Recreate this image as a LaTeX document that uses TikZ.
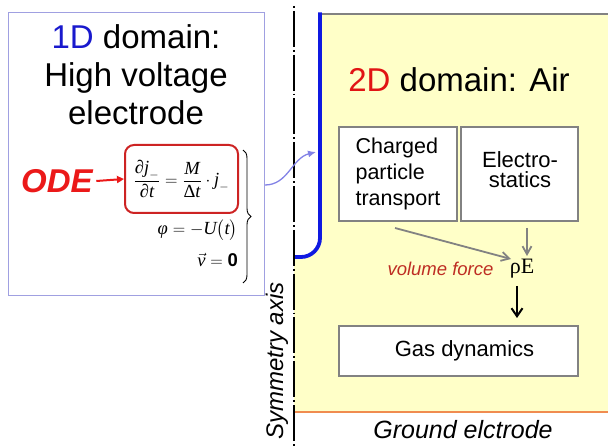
\documentclass[tikz,border=0pt]{standalone}
\usepackage{fontspec}
\usepackage{amsmath}
\setmainfont{Liberation Sans}
\newfontfamily\tnr{Liberation Serif}
\usetikzlibrary{arrows.meta,decorations.pathreplacing}
\definecolor{domyellow}{RGB}{255,255,200}
\definecolor{lav}{RGB}{160,160,225}
\definecolor{arrlav}{RGB}{130,130,230}
\definecolor{odered}{RGB}{235,25,25}
\definecolor{boxred}{RGB}{205,35,35}
\definecolor{elecblue}{RGB}{15,25,225}
\definecolor{blueD}{RGB}{25,25,205}
\definecolor{redD}{RGB}{225,20,20}
\definecolor{gndorange}{RGB}{240,140,80}
\definecolor{vfred}{RGB}{190,45,35}
\definecolor{boxgray}{RGB}{130,130,130}
\newcommand\ti[1]{\text{\tnr\itshape #1}}
\tikzset{
  dombox/.style={draw=boxgray, line width=1.8pt, fill=white, inner sep=0pt},
  grayarr/.style={draw=boxgray, line width=1.8pt, -{Straight Barb[length=8pt,width=9pt]}},
  bigtext/.style={font=\fontsize{33}{38}\selectfont},
  boxtext/.style={font=\fontsize{21.5}{26}\selectfont},
  eqtext/.style={font=\fontsize{18.5}{21}\selectfont}
}
\begin{document}
\begin{tikzpicture}[x=1pt,y=-1pt]
\useasboundingbox (0,0) rectangle (608,446);
% 2D domain
\fill[domyellow] (294,412) -- (294,257) -- (301,257) arc[start angle=90,end angle=0,radius=19] -- (320,14) -- (608,14) -- (608,412) -- cycle;
\draw[boxgray, line width=2pt] (320,14) -- (608,14);
\draw[elecblue, line width=3.8pt] (294,257) -- (301,257) arc[start angle=90,end angle=0,radius=19] -- (320,12.5);
\draw[gndorange, line width=2.5pt] (294,412) -- (608,412);
\draw[line width=1.8pt, dash pattern=on 1.8pt off 3pt on 36pt off 3pt] (294,6) -- (294,446);
\node[rotate=90, font=\fontsize{24}{26}\selectfont\itshape] (sym) at (277,361) {Symmetry axis};
% 1D box
\node[draw=lav, line width=1.2pt, minimum width=256pt, minimum height=283pt, anchor=north west, inner sep=0pt] (box1d) at (8,12) {};
\node[bigtext, align=center] (t1d) at (136,75) {\textcolor{blueD}{1D} domain:\\High voltage\\electrode};
\node[draw=boxred, line width=2pt, rounded corners=9pt, minimum width=113pt, minimum height=68pt, inner sep=2pt, eqtext] (eqbox) at (181.5,179)
  {$\dfrac{\ti{∂j}_{-}}{\ti{∂t}} = \dfrac{\ti{M}}{\text{\tnr Δ}\ti{t}}\cdot \ti{j}_{-}$};
\node[font=\fontsize{33}{33}\selectfont\bfseries\itshape, text=odered] (ode) at (57,181) {ODE};
\draw[odered, line width=2pt, -{Triangle[length=7pt,width=7pt]}] (ode.east) -- (eqbox.west);
\node[anchor=east, eqtext, inner sep=0pt] (phi) at (238,230) {$\ti{φ} = -\ti{U}\bigl(\ti{t}\bigr)$};
\node[anchor=east, eqtext, inner sep=0pt] (vel) at (238,260) {$\vec{\ti{v}} = \text{\bfseries 0}$};
\coordinate (brT) at (243,150);
\coordinate (brB) at (243,283);
\draw[line width=0.9pt, decorate, decoration={brace, amplitude=8pt}] (brT) -- (brB);
\coordinate (cs) at (265,185);
\coordinate (ce) at (316,152);
\draw[arrlav, line width=1.3pt, -{Latex[length=8pt,width=7pt]}] (cs) .. controls (288,185) and (292,158) .. (ce);
% 2D content
\node[bigtext] (t2d) at (459,80) {\textcolor{redD}{2D} domain: Air};
\node[dombox, minimum width=118pt, minimum height=94pt, boxtext, align=left] (cpt) at (398,174) {Charged\\particle\\transport};
\node[dombox, minimum width=117pt, minimum height=94pt, font=\fontsize{22}{20}\selectfont, align=center] (es) at (519.5,174) {};
\node[font=\fontsize{22}{20}\selectfont, align=center] (estext) at (520,170) {Electro-\\statics};
\node[dombox, minimum width=239pt, minimum height=50pt, font=\fontsize{22}{26}\selectfont] (gas) at (458.5,351) {\hspace*{12pt}Gas dynamics};
\node[font=\tnr\fontsize{22}{22}\selectfont, inner sep=1pt] (rhoE) at (522,269) {ρE};
\node[anchor=east, text=vfred, font=\fontsize{18.5}{20}\selectfont\itshape] (vf) at (497,269) {volume force};
\coordinate (a1s) at (395,228);
\coordinate (a1e) at (511,259);
\coordinate (a2s) at (527,228);
\coordinate (a2e) at (527,256);
\draw[grayarr] (a1s) -- (a1e);
\draw[grayarr] (a2s) -- (a2e);
\coordinate (a3s) at (517,286);
\coordinate (a3e) at (517,318);
\draw[line width=2pt, -{Straight Barb[length=8pt,width=11pt]}] (a3s) -- (a3e);
\node[font=\fontsize{25}{26}\selectfont\itshape] (gnd) at (463,430) {Ground elctrode};
\end{tikzpicture}
\end{document}
